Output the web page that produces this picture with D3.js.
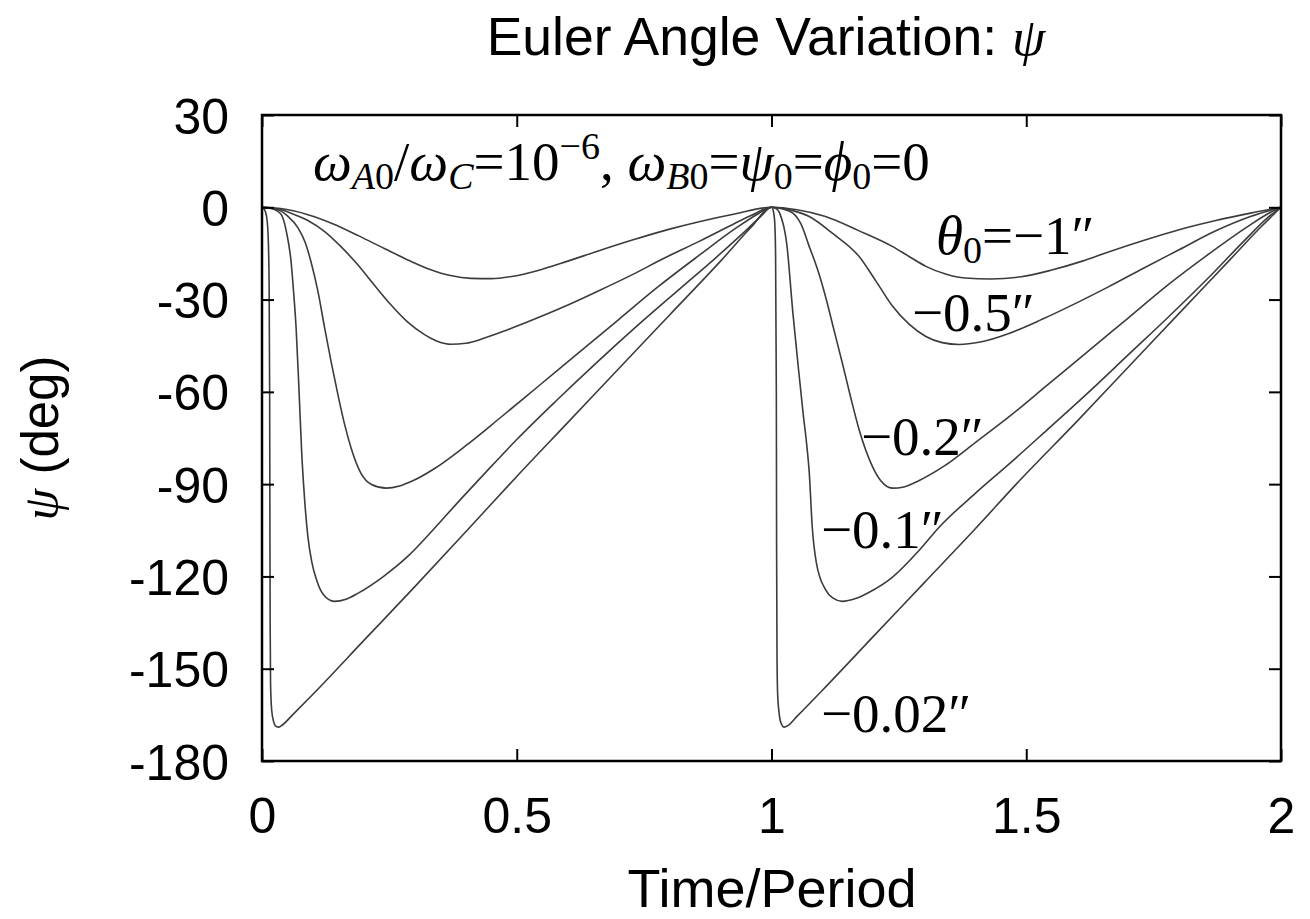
<!DOCTYPE html>
<html>
<head>
<meta charset="utf-8">
<script src="https://cdn.jsdelivr.net/npm/d3@7"></script>
<style>
  html, body { margin: 0; padding: 0; background: #fff; }
  svg { display: block; }
</style>
</head>
<body>
<svg id="chart" width="1310" height="919"></svg>
<script>
// ---------------- data ----------------
const xTicks = [0, 0.5, 1, 1.5, 2];
const xTickLabels = ["0", "0.5", "1", "1.5", "2"];
const yTicks = [30, 0, -30, -60, -90, -120, -150, -180];
const yTickLabels = ["30", "0", "-30", "-60", "-90", "-120", "-150", "-180"];

const seriesNames = ["θ0=−1″", "−0.5″", "−0.2″", "−0.1″", "−0.02″"];

// [time/period, psi (deg)]
const psiTheta1 = [
  [0,0],[0.04,-0.5],[0.09,-2.4],[0.14,-5.4],[0.19,-9.3],[0.24,-13.4],[0.29,-17.4],[0.33,-20.2],
  [0.37,-22.2],[0.41,-23.1],[0.45,-23.2],[0.49,-22.5],[0.54,-20.6],[0.6,-17.5],[0.66,-14.2],
  [0.73,-10.5],[0.8,-7.1],[0.86,-4.6],[0.93,-2.1],[1,0],
  [1.05,-0.8],[1.106,-3.0],[1.17,-7.5],[1.237,-12.7],[1.27,-16.0],[1.303,-19.2],[1.34,-21.6],
  [1.38,-23.0],[1.43,-23.3],[1.49,-22.6],[1.55,-20.4],[1.61,-17.5],[1.66,-14.6],[1.73,-10.8],
  [1.8,-7.3],[1.87,-4.4],[1.94,-1.9],[2,0]
];
const psiTheta05 = [
  [0,0],[0.03,-0.5],[0.057,-1.9],[0.09,-4.3],[0.123,-7.9],[0.155,-12.8],[0.188,-18.7],[0.22,-25.2],
  [0.253,-31.7],[0.285,-37.2],[0.319,-41.4],[0.345,-43.6],[0.371,-44.5],[0.40,-44.2],[0.437,-42.5],
  [0.482,-39.8],[0.54,-36.0],[0.597,-32.0],[0.66,-27.2],[0.728,-21.8],[0.79,-16.5],[0.859,-11.0],
  [0.92,-5.9],[0.96,-2.7],[1.0,0],
  [1.04,-1.0],[1.074,-3.0],[1.12,-8.5],[1.172,-16.0],[1.205,-24.0],[1.237,-32.0],[1.27,-38.0],
  [1.303,-42.0],[1.335,-44.0],[1.368,-44.6],[1.41,-43.8],[1.466,-41.0],[1.53,-36.5],[1.6,-31.0],
  [1.662,-25.8],[1.73,-19.8],[1.8,-13.8],[1.87,-7.8],[1.94,-3.0],[2,0]
];
const psiTheta02 = [
  [0,0],[0.031,-0.8],[0.05,-2.8],[0.071,-6.8],[0.085,-11.5],[0.096,-17.6],[0.11,-27.5],[0.123,-39.3],
  [0.136,-50.5],[0.149,-60.9],[0.162,-70.5],[0.175,-78.3],[0.194,-86.4],[0.215,-90.1],[0.244,-91.3],
  [0.27,-90.6],[0.30,-88.6],[0.338,-85.0],[0.40,-77.5],[0.467,-68.5],[0.54,-58.5],[0.62,-47.5],
  [0.70,-36.5],[0.78,-25.5],[0.859,-15.5],[0.93,-6.8],[0.975,-2.0],[1.0,0],
  [1.02,-0.5],[1.042,-1.9],[1.058,-5.5],[1.074,-12.7],[1.09,-20.0],[1.106,-29.0],[1.122,-39.5],
  [1.139,-50.6],[1.155,-61.5],[1.172,-72.3],[1.198,-84.2],[1.215,-89.0],[1.237,-91.3],[1.26,-90.9],
  [1.29,-88.8],[1.34,-84.0],[1.40,-76.5],[1.467,-68.0],[1.54,-58.0],[1.62,-47.0],[1.70,-36.0],
  [1.78,-25.0],[1.86,-15.0],[1.93,-6.8],[1.975,-2.0],[2,0]
];
const psiTheta01 = [
  [0,0],[0.02,-0.5],[0.038,-2.4],[0.048,-8.0],[0.057,-17.6],[0.062,-27.5],[0.067,-39.3],[0.073,-60.9],
  [0.078,-80.0],[0.083,-93.5],[0.09,-107.0],[0.098,-115.5],[0.107,-121.1],[0.12,-125.8],[0.142,-128.1],
  [0.165,-127.4],[0.188,-125.5],[0.24,-119.8],[0.286,-113.5],[0.335,-105.0],[0.384,-96.0],[0.44,-86.0],
  [0.5,-75.5],[0.58,-62.5],[0.66,-50.0],[0.74,-38.0],[0.82,-26.5],[0.89,-16.5],[0.95,-7.5],[0.98,-2.8],[1.0,0],
  [1.008,-0.3],[1.016,-1.9],[1.03,-12.0],[1.042,-34.4],[1.052,-51.0],[1.062,-66.9],[1.069,-77.0],
  [1.074,-86.0],[1.08,-104.0],[1.088,-115.5],[1.106,-124.3],[1.12,-127.0],[1.139,-128.1],[1.165,-127.2],
  [1.19,-125.3],[1.237,-120.3],[1.29,-111.5],[1.329,-104.0],[1.40,-93.0],[1.466,-83.5],[1.54,-72.5],
  [1.62,-60.5],[1.70,-48.0],[1.78,-35.5],[1.86,-22.5],[1.93,-10.5],[1.975,-3.2],[2,0]
];
const psiTheta002 = [
  [0,0],[0.005,-0.8],[0.009,-3],[0.012,-9],[0.014,-25],[0.015,-60],[0.0155,-100],[0.016,-135],
  [0.0168,-155],[0.019,-163.5],[0.023,-167.3],[0.028,-168.8],[0.033,-169],[0.04,-168.3],[0.06,-165],
  [0.1,-158.3],[0.2,-140.8],[0.3,-123.3],[0.4,-105.5],[0.5,-87.5],[0.6,-70],[0.7,-52.5],[0.8,-35],
  [0.9,-17.5],[0.96,-6.5],[1,0],
  [1.003,-0.8],[1.006,-4],[1.008,-15],[1.0095,-60],[1.010,-110],[1.0108,-145],[1.012,-158],
  [1.015,-164.5],[1.019,-167.8],[1.025,-169],[1.032,-168.5],[1.05,-165.5],[1.1,-157],[1.2,-139.5],
  [1.3,-122],[1.4,-104.5],[1.486,-89],[1.6,-69.5],[1.7,-52],[1.8,-34.5],[1.9,-17],[1.96,-6.5],[2,0]
];
const allSeries = [psiTheta1, psiTheta05, psiTheta02, psiTheta01, psiTheta002];

// ---------------- drawing ----------------
(function draw() {
const svg = d3.select("#chart");
svg.append("rect").attr("width", 1310).attr("height", 919).attr("fill", "#fff");

const pLeft = 262, pRight = 1281, pTop = 115, pBottom = 761;
const x = d3.scaleLinear().domain([0, 2]).range([pLeft, pRight]);
const y = d3.scaleLinear().domain([-180, 30]).range([pBottom, pTop]);

const SANS = "'Liberation Sans', Arial, Helvetica, sans-serif";
const SERIF = "'Liberation Serif', 'Times New Roman', serif";

// curves
const line = d3.line().x(d => x(d[0])).y(d => y(d[1])).curve(d3.curveMonotoneX);
const plot = svg.append("g");
allSeries.forEach(s => {
  plot.append("path").datum(s).attr("d", line)
    .attr("fill", "none").attr("stroke", "#3c3c3c").attr("stroke-width", 1.6);
});

// axes with inward ticks (mirrored)
const tickLen = 12;
const axB = svg.append("g").attr("transform", `translate(0,${pBottom})`)
  .call(d3.axisBottom(x).tickValues(xTicks).tickSizeInner(-tickLen).tickSizeOuter(0).tickFormat((d,i) => xTickLabels[i]));
const axT = svg.append("g").attr("transform", `translate(0,${pTop})`)
  .call(d3.axisTop(x).tickValues(xTicks).tickSizeInner(-tickLen).tickSizeOuter(0).tickFormat(""));
const axL = svg.append("g").attr("transform", `translate(${pLeft},0)`)
  .call(d3.axisLeft(y).tickValues(yTicks).tickSizeInner(-tickLen).tickSizeOuter(0).tickFormat((d,i) => yTickLabels[i]));
const axR = svg.append("g").attr("transform", `translate(${pRight},0)`)
  .call(d3.axisRight(y).tickValues(yTicks).tickSizeInner(-tickLen).tickSizeOuter(0).tickFormat(""));
[axB, axT, axL, axR].forEach(a => {
  a.select(".domain").remove();
  a.selectAll(".tick line").attr("stroke", "#000").attr("stroke-width", 2);
  a.selectAll("text").attr("font-family", SANS).attr("font-size", 50).attr("fill", "#000");
});
axB.selectAll(".tick text").attr("dy", null).attr("y", 72);
axL.selectAll(".tick text").attr("x", -33).attr("dy", "0.36em");

// frame
svg.append("rect").attr("x", pLeft).attr("y", pTop).attr("width", pRight - pLeft).attr("height", pBottom - pTop)
  .attr("fill", "none").attr("stroke", "#000").attr("stroke-width", 2.5);

// title
const title = svg.append("text").attr("x", 766).attr("y", 55).attr("text-anchor", "middle")
  .attr("font-family", SANS).attr("font-size", 53.5).attr("fill", "#000");
title.append("tspan").text("Euler Angle Variation: ");
title.append("tspan").attr("font-family", SERIF).attr("font-style", "italic").text("ψ");

// x label
svg.append("text").attr("x", 772).attr("y", 907).attr("text-anchor", "middle")
  .attr("font-family", SANS).attr("font-size", 54).attr("fill", "#000").text("Time/Period");

// y label
const yl = svg.append("text").attr("transform", "translate(58,438) rotate(-90)").attr("text-anchor", "middle")
  .attr("font-family", SANS).attr("font-size", 51).attr("fill", "#000");
yl.append("tspan").attr("font-family", SERIF).attr("font-style", "italic").text("ψ");
yl.append("tspan").text(" (deg)");

// annotation: parameters
const FS = 55, SUB = 38, SD = 9;
const ann = svg.append("text").attr("x", 313).attr("y", 180).attr("font-family", SERIF)
  .attr("font-size", FS).attr("fill", "#000");
function part(t, opts) {
  const ts = ann.append("tspan").text(t);
  if (opts && opts.it) ts.attr("font-style", "italic");
  if (opts && opts.fs) ts.attr("font-size", opts.fs);
  if (opts && opts.dy) ts.attr("dy", opts.dy);
  return ts;
}
part("ω", {it: true});
part("A", {it: true, fs: SUB, dy: SD}); part("0", {fs: SUB});
part("/", {dy: -SD});
part("ω", {it: true});
part("C", {it: true, fs: SUB, dy: SD});
part("=10", {dy: -SD});
part("−6", {fs: SUB, dy: -21});
part(", ", {dy: 21});
part("ω", {it: true});
part("B", {it: true, fs: SUB, dy: SD}); part("0", {fs: SUB});
part("=", {dy: -SD});
part("ψ", {it: true});
part("0", {fs: SUB, dy: SD});
part("=", {dy: -SD});
part("ϕ", {it: true});
part("0", {fs: SUB, dy: SD});
part("=0", {dy: -SD});

// series labels
const labelPos = [
  {x: 936, y: 254},
  {x: 912, y: 331},
  {x: 861, y: 455},
  {x: 821, y: 548},
  {x: 821, y: 732}
];
seriesNames.forEach((name, i) => {
  const t = svg.append("text").attr("x", labelPos[i].x).attr("y", labelPos[i].y)
    .attr("font-family", SERIF).attr("font-size", FS).attr("fill", "#000");
  if (i === 0) {
    t.append("tspan").attr("font-style", "italic").text("θ");
    t.append("tspan").attr("font-size", SUB).attr("dy", SD).text("0");
    t.append("tspan").attr("dy", -SD).text("=−1″");
  } else {
    t.text(name);
  }
});
})();
</script>
</body>
</html>
